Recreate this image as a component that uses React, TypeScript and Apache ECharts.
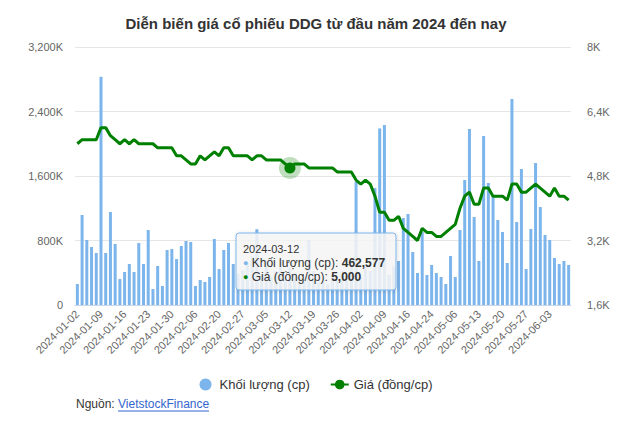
import React, { useEffect, useRef } from 'react';
import * as echarts from 'echarts';

const FONT = 'Arial, "Liberation Sans", Helvetica, sans-serif';

const TITLE = 'Diễn biến giá cổ phiếu DDG từ đầu năm 2024 đến nay';
const VOLUME_NAME = 'Khối lượng (cp)';
const PRICE_NAME = 'Giá (đồng/cp)';

const dates: string[] = [
  '2024-01-02', '2024-01-03', '2024-01-04', '2024-01-05', '2024-01-08', '2024-01-09', '2024-01-10', '2024-01-11',
  '2024-01-12', '2024-01-15', '2024-01-16', '2024-01-17', '2024-01-18', '2024-01-19', '2024-01-22', '2024-01-23',
  '2024-01-24', '2024-01-25', '2024-01-26', '2024-01-29', '2024-01-30', '2024-01-31',
  '2024-02-01', '2024-02-02', '2024-02-05', '2024-02-06', '2024-02-07', '2024-02-15', '2024-02-16', '2024-02-19',
  '2024-02-20', '2024-02-21', '2024-02-22', '2024-02-23', '2024-02-26', '2024-02-27', '2024-02-28', '2024-02-29',
  '2024-03-01', '2024-03-04', '2024-03-05', '2024-03-06', '2024-03-07', '2024-03-08', '2024-03-11', '2024-03-12',
  '2024-03-13', '2024-03-14', '2024-03-15', '2024-03-18', '2024-03-19', '2024-03-20', '2024-03-21', '2024-03-22',
  '2024-03-25', '2024-03-26', '2024-03-27', '2024-03-28', '2024-03-29',
  '2024-04-01', '2024-04-02', '2024-04-03', '2024-04-04', '2024-04-05', '2024-04-08', '2024-04-09', '2024-04-10',
  '2024-04-11', '2024-04-12', '2024-04-15', '2024-04-16', '2024-04-17', '2024-04-19', '2024-04-22', '2024-04-23',
  '2024-04-24', '2024-04-25', '2024-04-26',
  '2024-05-02', '2024-05-03', '2024-05-06', '2024-05-07', '2024-05-08', '2024-05-09', '2024-05-10', '2024-05-13',
  '2024-05-14', '2024-05-15', '2024-05-16', '2024-05-17', '2024-05-20', '2024-05-21', '2024-05-22', '2024-05-23',
  '2024-05-24', '2024-05-27', '2024-05-28', '2024-05-29', '2024-05-30', '2024-05-31',
  '2024-06-03', '2024-06-04', '2024-06-05', '2024-06-06', '2024-06-07',
];

const volume: number[] = [
  260000, 1116000, 806000, 719000, 645000, 2830000, 645000, 1153000, 757000, 322000,
  409000, 508000, 409000, 769000, 508000, 930000, 198000, 484000, 236000, 682000,
  695000, 570000, 732000, 794000, 781000, 236000, 310000, 285000, 347000, 819000,
  446000, 682000, 769000, 508000, 384000, 430000, 520000, 600000, 940000, 380000,
  560000, 350000, 420000, 560000, 330000, 462577, 400000, 350000, 300000, 806000,
  420000, 280000, 330000, 260000, 380000, 300000, 420000, 350000, 480000, 1530000,
  350000, 500000, 420000, 1450000, 2190000, 2232000, 372000, 480000, 546000, 1079000,
  1129000, 657000, 397000, 905000, 372000, 496000, 397000, 347000, 260000, 608000,
  347000, 930000, 1550000, 2183000, 1091000, 546000, 2096000, 1513000, 1352000, 1054000,
  905000, 521000, 2555000, 1029000, 1687000, 446000, 943000, 1761000, 1215000, 868000,
  806000, 583000, 508000, 546000, 496000,
];

const price: number[] = [
  5600, 5700, 5700, 5700, 5700, 6000, 6000, 5800, 5700, 5600,
  5700, 5600, 5700, 5600, 5600, 5600, 5600, 5500, 5500, 5500,
  5500, 5300, 5300, 5200, 5100, 5100, 5300, 5200, 5300, 5400,
  5300, 5500, 5500, 5300, 5300, 5300, 5300, 5200, 5300, 5300,
  5200, 5200, 5200, 5200, 5100, 5000, 5100, 5100, 5100, 5000,
  5000, 5000, 5000, 5000, 5000, 4900, 4900, 4900, 4900, 4700,
  4600, 4700, 4600, 4300, 3900, 3900, 3700, 3700, 3800, 3500,
  3400, 3300, 3200, 3500, 3400, 3400, 3300, 3300, 3400, 3500,
  3600, 4000, 4300, 4400, 4100, 4100, 4500, 4500, 4300, 4300,
  4300, 4200, 4600, 4600, 4400, 4400, 4500, 4600, 4500, 4400,
  4300, 4500, 4300, 4300, 4200,
];

const volumeTicks = { min: 0, max: 3200000, interval: 800000 };
const priceTicks = { min: 1600, max: 8000, interval: 1600 };

const HOVER_INDEX = 45;
const SOURCE_LABEL = 'Nguồn: ';
const SOURCE_LINK = 'VietstockFinance';

const fmtVolumeAxis = (v: number) => (v === 0 ? '0' : (v / 1000).toLocaleString('en-US') + 'K');
const fmtPriceAxis = (v: number) => String(+(v / 1000).toFixed(1)).replace('.', ',') + 'K';

export default function App() {
  const ref = useRef<HTMLDivElement>(null);
  useEffect(() => {
    const chart = echarts.init(ref.current!, null, { renderer: 'svg' });
    const hv = HOVER_INDEX;
    const TZ = 200;
    chart.setOption({
      animation: false,
      backgroundColor: '#ffffff',
      textStyle: { fontFamily: FONT },
      title: {
        text: TITLE,
        left: 'center',
        top: 11,
        textStyle: { fontSize: 15, fontWeight: 'bold', color: '#333333', fontFamily: FONT },
      },
      grid: { left: 75, right: 61, top: 47, bottom: 123 },
      legend: {
        left: 'center',
        top: 373,
        itemWidth: 18,
        itemHeight: 12,
        itemGap: 20,
        textStyle: { fontSize: 13, color: '#333333', fontFamily: FONT },
        data: [{ name: VOLUME_NAME, icon: 'circle' }, { name: PRICE_NAME }],
      },
      xAxis: {
        type: 'category',
        data: dates,
        boundaryGap: true,
        axisLine: { lineStyle: { color: '#ccd6eb' } },
        axisTick: { interval: 4, alignWithLabel: true, length: 9, lineStyle: { color: '#ccd6eb' } },
        axisLabel: { interval: 4, rotate: 45, fontSize: 11, color: '#666666', margin: 7, fontFamily: FONT },
      },
      yAxis: [
        {
          type: 'value',
          position: 'left',
          ...volumeTicks,
          axisLine: { show: false },
          axisTick: { show: false },
          splitLine: { lineStyle: { color: '#e6e6e6' } },
          axisLabel: { formatter: fmtVolumeAxis, color: '#666666', fontSize: 11, margin: 12, fontFamily: FONT },
        },
        {
          type: 'value',
          position: 'right',
          ...priceTicks,
          axisLine: { show: false },
          axisTick: { show: false },
          splitLine: { show: false },
          axisLabel: { formatter: fmtPriceAxis, color: '#666666', fontSize: 11, margin: 16, fontFamily: FONT },
        },
      ],
      series: [
        {
          name: VOLUME_NAME,
          type: 'bar',
          yAxisIndex: 0,
          data: volume,
          barWidth: 3,
          itemStyle: { color: '#7cb5ec' },
        },
        {
          name: PRICE_NAME,
          type: 'line',
          yAxisIndex: 1,
          data: price,
          showSymbol: false,
          symbol: 'circle',
          symbolSize: 8,
          lineStyle: { color: '#008000', width: 3 },
          itemStyle: { color: '#008000' },
          markPoint: {
            symbol: 'circle',
            label: { show: false },
            data: [
              { coord: [dates[hv], price[hv]], symbolSize: 22, itemStyle: { color: 'rgba(0,128,0,0.25)' } },
              { coord: [dates[hv], price[hv]], symbolSize: 11, itemStyle: { color: '#008000' } },
            ],
          },
        },
      ],
      graphic: [
        {
          type: 'rect',
          z: TZ,
          shape: { x: 236, y: 233, width: 160, height: 57, r: 3 },
          style: {
            fill: 'rgba(247,247,247,0.85)',
            stroke: '#7cb5ec',
            lineWidth: 1,
            shadowBlur: 4,
            shadowOffsetX: 1,
            shadowOffsetY: 1,
            shadowColor: 'rgba(0,0,0,0.15)',
          },
        },
        {
          type: 'text',
          z: TZ + 1,
          x: 243,
          y: 248.5,
          style: { text: dates[hv], fontSize: 11, fill: '#333333', fontFamily: FONT, verticalAlign: 'middle' },
        },
        {
          type: 'text',
          z: TZ + 1,
          x: 243,
          y: 262.5,
          style: {
            text: `{d|●} {l|${VOLUME_NAME}: }{v|${volume[hv].toLocaleString('en-US')}}`,
            verticalAlign: 'middle',
            rich: {
              d: { fontSize: 9, fill: '#7cb5ec', fontFamily: FONT },
              l: { fontSize: 12, fill: '#333333', fontFamily: FONT },
              v: { fontSize: 12, fill: '#333333', fontWeight: 'bold', fontFamily: FONT },
            },
          },
        },
        {
          type: 'text',
          z: TZ + 1,
          x: 243,
          y: 277,
          style: {
            text: `{d|●} {l|${PRICE_NAME}: }{v|${price[hv].toLocaleString('en-US')}}`,
            verticalAlign: 'middle',
            rich: {
              d: { fontSize: 9, fill: '#008000', fontFamily: FONT },
              l: { fontSize: 12, fill: '#333333', fontFamily: FONT },
              v: { fontSize: 12, fill: '#333333', fontWeight: 'bold', fontFamily: FONT },
            },
          },
        },
        {
          type: 'text',
          x: 76,
          y: 404,
          style: { text: SOURCE_LABEL, fontSize: 12, fill: '#333333', fontFamily: FONT, verticalAlign: 'middle' },
        },
        {
          type: 'text',
          x: 118,
          y: 404,
          style: { text: SOURCE_LINK, fontSize: 12, fill: '#3366cc', fontFamily: FONT, verticalAlign: 'middle' },
        },
        {
          type: 'line',
          shape: { x1: 118, y1: 411, x2: 209, y2: 411 },
          style: { stroke: '#3366cc', lineWidth: 1 },
        },
      ],
    });
    return () => chart.dispose();
  }, []);
  return (
    <div
      ref={ref}
      style={{ position: 'absolute', left: 0, top: 0, width: 632, height: 428, background: '#ffffff' }}
    />
  );
}
